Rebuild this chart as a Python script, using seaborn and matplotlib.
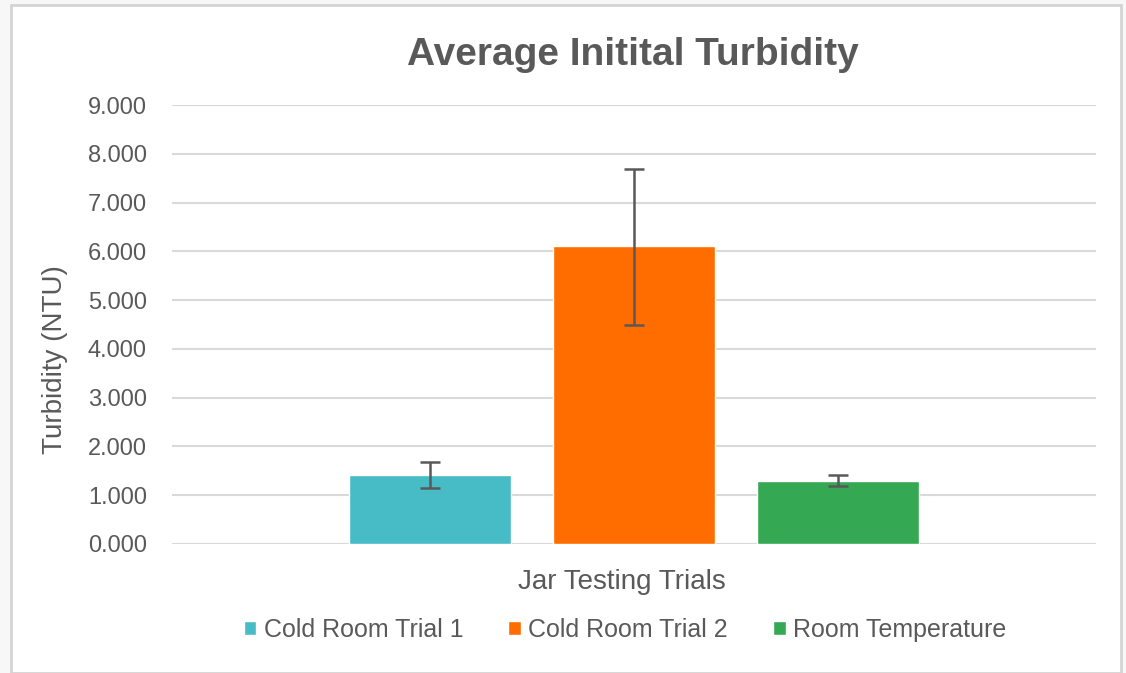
import matplotlib
matplotlib.use("Agg")
import matplotlib.pyplot as plt
import matplotlib.patches as mpatches
import seaborn as sns
import pandas as pd

# data
trials = ["Cold Room Trial 1", "Cold Room Trial 2", "Room Temperature"]
turbidity = [1.41, 6.10, 1.30]
err_low = [0.27, 1.60, 0.12]
err_high = [0.28, 1.58, 0.11]
colores = ["#47BBC6", "#FF6D00", "#34A853"]
yticks = [0, 1, 2, 3, 4, 5, 6, 7, 8, 9]

gris_txt = "#595959"

df = pd.DataFrame({"grupo": [""] * len(trials), "trial": trials, "valor": turbidity})

sns.set_theme(style="white")
plt.rcParams["font.family"] = ["Liberation Sans", "DejaVu Sans"]

fig = plt.figure(figsize=(11.26, 6.73), dpi=100)
fig.patch.set_facecolor("#f7f7f7")
# marco blanco con borde gris
fig.patches.append(mpatches.Rectangle((11 / 1126, 0), 1 - 16 / 1126, 1 - 5 / 673,
                                      transform=fig.transFigure, facecolor="white",
                                      edgecolor="#d4d4d4", linewidth=2, zorder=-1))

ax = fig.add_axes([172 / 1126, 1 - 544 / 673, (1096 - 172) / 1126, (544 - 105) / 673])
ax.set_facecolor("none")

sns.barplot(data=df, x="grupo", y="valor", hue="trial", palette=colores,
            width=0.661, gap=0.205, saturation=1, errorbar=None, ax=ax,
            legend=False, zorder=3)

# barras de error sobre los centros de cada barra
centros = [p.get_x() + p.get_width() / 2 for p in ax.patches[:len(trials)]]
ax.errorbar(centros, turbidity, yerr=[err_low, err_high], fmt="none",
            ecolor="#595959", elinewidth=1.8, capsize=7, capthick=1.8, zorder=4)

ax.set_ylim(0, 9)
ax.set_xlim(-0.5, 0.5)
ax.set_yticks(yticks)
ax.set_yticklabels([f"{v:.3f}" for v in yticks], fontsize=17, color=gris_txt)
ax.set_xticks([])
ax.yaxis.grid(True, color="#d9d9d9", linewidth=1.5, zorder=0)
ax.set_axisbelow(True)
ax.tick_params(axis="y", length=0, pad=18)
for s in ax.spines.values():
    s.set_visible(False)

ax.set_ylabel("Turbidity (NTU)", fontsize=20, color=gris_txt)
ax.yaxis.set_label_coords(-0.113, 0.42)
ax.set_xlabel("Jar Testing Trials", fontsize=20, color=gris_txt)
ax.xaxis.set_label_coords(0.487, -0.056)

fig.text(633 / 1126, 1 - 55 / 673, "Average Initital Turbidity", fontsize=28,
         fontweight="bold", color=gris_txt, ha="center", va="center")

handles = [mpatches.Patch(facecolor=c, label=t) for c, t in zip(colores, trials)]
fig.legend(handles=handles, loc="center", bbox_to_anchor=(625 / 1126, 1 - 630 / 673),
           ncol=3, frameon=False, fontsize=18, handlelength=0.5, handleheight=0.5,
           handletextpad=0.3, columnspacing=1.8, labelcolor=gris_txt)

plt.savefig("out.png", dpi=100)
